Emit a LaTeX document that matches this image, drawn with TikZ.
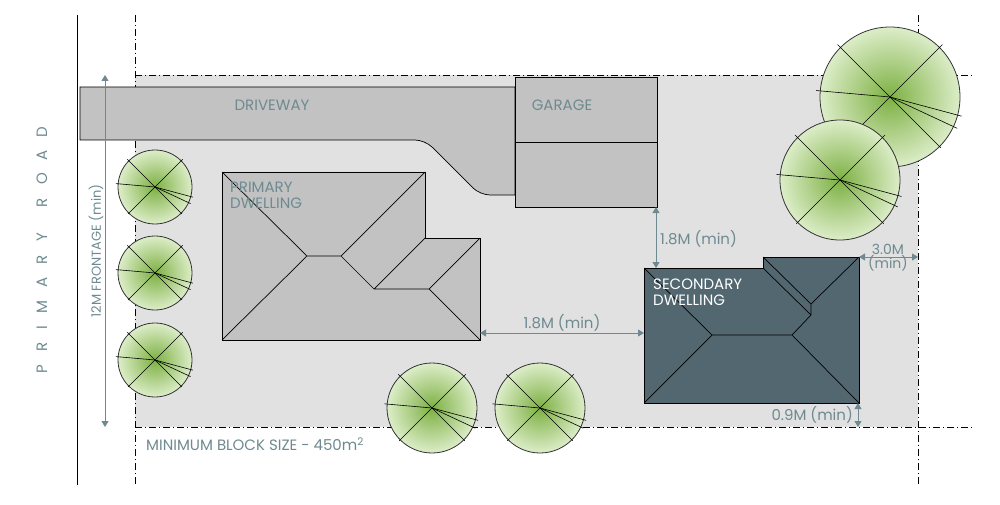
\documentclass[tikz,border=0pt]{standalone}
\usepackage{fontspec}
\setmainfont{Poppins}
\usetikzlibrary{arrows.meta,positioning}
\definecolor{txtc}{HTML}{6E8A90}
\definecolor{darkh}{HTML}{526770}
\definecolor{lotc}{HTML}{E1E1E1}
\definecolor{roofc}{HTML}{C2C2C2}
\definecolor{leafin}{HTML}{7DB043}
\definecolor{leafout}{HTML}{DCEDC8}
\tikzset{
    lbl/.style={text=txtc, font=\fontsize{15}{16}\selectfont, inner sep=1pt},
    dim/.style={draw=txtc, line width=0.9pt, {Triangle[length=6pt,width=7pt]}-{Triangle[length=6pt,width=7pt]}},
    bound/.style={line width=0.6pt, dash pattern=on 7pt off 3pt on 1pt off 3pt},
    ridge/.style={line width=0.7pt},
    tree/.style={draw=black!80, line width=0.8pt, inner color=leafin, outer color=leafout}
}
\newcommand{\planttree}[4]{% name, x, y, r
    \node[tree, circle, minimum size=2*#4pt, inner sep=0pt] (#1) at (#2,#3) {};
    \foreach \a in {45,135,175,-15,-25}
        \draw[line width=0.6pt] (#1.center) -- ++(\a:1.06*#4pt);
    \foreach \a in {225,315}
        \draw[line width=0.6pt] (#1.center) -- ++(\a:1.03*#4pt);
}
\begin{document}
\begin{tikzpicture}[x=1pt,y=-1pt]
\useasboundingbox (0,0) rectangle (1000,505);
% block
\fill[lotc] (135,75) rectangle (918,427);
\draw[bound] (135,75) -- (975,75) (135,427) -- (975,427)
    (135,15) -- (135,485) (918,15) -- (918,485);
\draw[line width=0.8pt] (77,15) -- (77,485);
% driveway and garage
\draw[fill=roofc, line width=0.7pt] (80,87) -- (515,87) -- (515,195)
    [rounded corners=10pt] -- (480,195) -- (425,140) [sharp corners] -- (80,140) -- cycle;
\draw[fill=roofc, line width=0.7pt] (515,77) rectangle (657,207);
\draw[line width=0.7pt] (515,142) -- (657,142);
\node[lbl] (drive) at (272,105) {DRIVEWAY};
\node[lbl] (garage) at (562,105) {GARAGE};
% primary dwelling
\draw[fill=roofc, line width=0.8pt] (222,172) -- (425,172) -- (425,238) -- (480,238)
    -- (480,340) -- (222,340) -- cycle;
\draw[ridge] (222,172) -- (307,256) -- (222,340) (307,256) -- (341,256) -- (425,172)
    (341,256) -- (374,289) -- (425,238) (374,289) -- (429,289) -- (480,238)
    (429,289) -- (480,340);
\node[lbl, align=left, anchor=north west] (prim) at (229,181) {PRIMARY\\DWELLING};
% secondary dwelling
\draw[fill=darkh, line width=0.8pt] (644,268) -- (763,268) -- (763,257) -- (859,257)
    -- (859,403) -- (644,403) -- cycle;
\draw[ridge] (644,268) -- (712,335) -- (644,403) (712,335) -- (792,335) -- (859,403)
    (792,335) -- (811,315) -- (811,304) -- (859,257)
    (811,315) -- (763,268) (811,304) -- (763,257);
\node[lbl, text=white, align=left, anchor=north west] (sec) at (652,278) {SECONDARY\\DWELLING};
% dimensions
\coordinate (gbot) at (656,207);
\coordinate (stop) at (656,268);
\draw[dim] (gbot) -- (stop);
\node[lbl, anchor=west] (d1) at (659,239) {1.8M (min)};
\coordinate (pr) at (480,333);
\coordinate (sl) at (644,333);
\draw[dim] (pr) -- (sl);
\node[lbl, anchor=south] (d2) at (562,332) {1.8M (min)};
\coordinate (sr) at (859,257);
\coordinate (bl) at (918,257);
\draw[dim] (sr) -- (bl);
\node[lbl, align=center, font=\fontsize{14}{13}\selectfont] (d3) at (888,258) {3.0M\\(min)};
\coordinate (sb) at (858,403);
\coordinate (bb) at (858,427);
\draw[dim] (sb) -- (bb);
\node[lbl, anchor=east] (d4) at (854,415) {0.9M (min)};
\coordinate (ft) at (105,75);
\coordinate (fb) at (105,427);
\draw[dim] (ft) -- (fb);
\node[lbl, rotate=90, font=\fontsize{13}{13}\selectfont] (front) at (96,251) {12M FRONTAGE (min)};
\node[lbl, rotate=90] (road) at (42,250)
    {P\hspace{13pt}R\hspace{13pt}I\hspace{13pt}M\hspace{13pt}A\hspace{13pt}R\hspace{13pt}Y\hspace{26pt}R\hspace{13pt}O\hspace{13pt}A\hspace{13pt}D};
\node[lbl, anchor=west] (size) at (145,444) {MINIMUM BLOCK SIZE - 450m\textsuperscript{2}};
% trees
\planttree{t1}{155}{187}{37}
\planttree{t2}{155}{273}{37}
\planttree{t3}{155}{360}{37}
\planttree{t4}{432}{408}{45}
\planttree{t5}{540}{408}{45}
\planttree{t6}{890}{97}{70}
\planttree{t7}{840}{180}{60}
\end{tikzpicture}
\end{document}
